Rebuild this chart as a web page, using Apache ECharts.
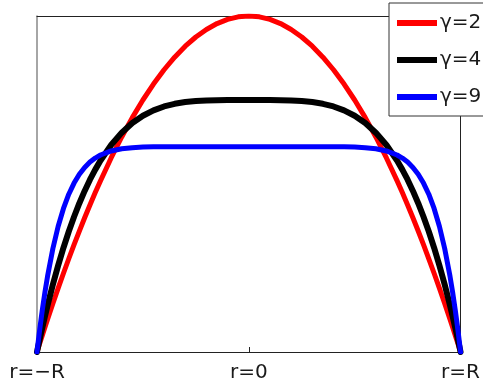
<!DOCTYPE html>
<html>
<head>
<meta charset="utf-8">
<script src="https://cdn.jsdelivr.net/npm/echarts@6/dist/echarts.min.js"></script>
<style>
  html, body { margin: 0; padding: 0; background: #fff; }
  #chart { width: 483px; height: 388px; }
</style>
</head>
<body>
<div id="chart"></div>
<script>
// Radial positions across the channel, normalised so r = -R .. R maps to -1 .. 1
const radius = [-1, -0.995, -0.99, -0.985, -0.975, -0.9625, -0.95, -0.925, -0.9, -0.875, -0.85, -0.825, -0.8, -0.775,
  -0.75, -0.725, -0.7, -0.65, -0.6, -0.55, -0.5, -0.45, -0.4, -0.35, -0.3, -0.25, -0.2, -0.15, -0.1, -0.05, 0,
  0.05, 0.1, 0.15, 0.2, 0.25, 0.3, 0.35, 0.4, 0.45, 0.5, 0.55, 0.6, 0.65, 0.7, 0.725, 0.75, 0.775, 0.8, 0.825,
  0.85, 0.875, 0.9, 0.925, 0.95, 0.9625, 0.975, 0.985, 0.99, 0.995, 1];

// Velocity profiles for each exponent
const gamma2 = [0, 0.010, 0.020, 0.0298, 0.049, 0.0736, 0.0975, 0.1444, 0.19, 0.2344, 0.2775, 0.3194, 0.36, 0.3994,
  0.4375, 0.4744, 0.51, 0.5775, 0.64, 0.6975, 0.75, 0.7975, 0.84, 0.8775, 0.91, 0.9375, 0.96, 0.9775, 0.99, 0.9975, 1,
  0.9975, 0.99, 0.9775, 0.96, 0.9375, 0.91, 0.8775, 0.84, 0.7975, 0.75, 0.6975, 0.64, 0.5775, 0.51, 0.4744, 0.4375, 0.3994, 0.36, 0.3194,
  0.2775, 0.2344, 0.19, 0.1444, 0.0975, 0.0736, 0.049, 0.0298, 0.020, 0.010, 0];

const gamma4 = [0, 0.0149, 0.0296, 0.0440, 0.0722, 0.1063, 0.1391, 0.2009, 0.2579, 0.3104, 0.3585, 0.4026, 0.4428, 0.4794,
  0.5127, 0.5428, 0.5699, 0.6161, 0.6528, 0.6814, 0.7031, 0.7192, 0.7308, 0.7387, 0.7439, 0.7471, 0.7488, 0.7496, 0.7499, 0.75, 0.75,
  0.75, 0.7499, 0.7496, 0.7488, 0.7471, 0.7439, 0.7387, 0.7308, 0.7192, 0.7031, 0.6814, 0.6528, 0.6161, 0.5699, 0.5428, 0.5127, 0.4794, 0.4428, 0.4026,
  0.3585, 0.3104, 0.2579, 0.2009, 0.1391, 0.1063, 0.0722, 0.0440, 0.0296, 0.0149, 0];

const gamma9 = [0, 0.0269, 0.0529, 0.0777, 0.1246, 0.1779, 0.2260, 0.3081, 0.3743, 0.4273, 0.4695, 0.5028, 0.5290, 0.5493,
  0.5652, 0.5772, 0.5864, 0.5984, 0.6049, 0.6082, 0.6098, 0.6105, 0.6108, 0.611, 0.611, 0.611, 0.611, 0.611, 0.611, 0.611, 0.611,
  0.611, 0.611, 0.611, 0.611, 0.611, 0.611, 0.611, 0.6108, 0.6105, 0.6098, 0.6082, 0.6049, 0.5984, 0.5864, 0.5772, 0.5652, 0.5493, 0.5290, 0.5028,
  0.4695, 0.4273, 0.3743, 0.3081, 0.2260, 0.1779, 0.1246, 0.0777, 0.0529, 0.0269, 0];

const seriesNames = ['γ=2', 'γ=4', 'γ=9'];
const seriesColors = ['#ff0000', '#000000', '#0000ff'];
const seriesWidths = [5, 6, 5];
const profiles = [gamma2, gamma4, gamma9];

// Labels at the walls and on the centreline
const tickLabels = { '-1': 'r=\u2212R', '0': 'r=0', '1': 'r=R' };

const font = 'DejaVu Sans';
const chart = echarts.init(document.getElementById('chart'), null, { renderer: 'canvas' });

const series = profiles.map((vals, i) => ({
  name: seriesNames[i],
  type: 'line',
  data: radius.map((r, k) => [r, vals[k]]),
  showSymbol: false,
  symbol: 'none',
  smooth: false,
  clip: true,
  animation: false,
  lineStyle: { color: seriesColors[i], width: seriesWidths[i], cap: 'round', join: 'round' },
  itemStyle: { color: seriesColors[i] }
}));

chart.setOption({
  animation: false,
  backgroundColor: '#ffffff',
  grid: { left: 37, right: 22, top: 16, bottom: 36, containLabel: false },
  legend: {
    orient: 'vertical',
    left: 389,
    top: 3,
    padding: [10, 30, 9, 8],
    itemGap: 17,
    itemWidth: 40,
    itemHeight: 6,
    icon: 'rect',
    backgroundColor: '#ffffff',
    borderColor: '#333333',
    borderWidth: 1,
    borderRadius: 0,
    data: seriesNames,
    textStyle: { fontFamily: font, fontSize: 20, color: '#1a1a1a', padding: [0, 0, 0, -2] }
  },
  xAxis: [
    {
      type: 'value',
      min: -1,
      max: 1,
      interval: 1,
      position: 'bottom',
      axisLine: { show: true, onZero: false, lineStyle: { color: '#222222', width: 1 } },
      axisTick: { show: true, inside: true, length: 5, customValues: [0], lineStyle: { color: '#222222' } },
      splitLine: { show: false },
      axisLabel: {
        margin: 11,
        fontFamily: font,
        fontSize: 20,
        color: '#1a1a1a',
        formatter: v => tickLabels[String(v)] || ''
      }
    },
    {
      type: 'value',
      min: -1,
      max: 1,
      position: 'top',
      axisLine: { show: true, onZero: false, lineStyle: { color: '#222222', width: 1 } },
      axisTick: { show: false },
      axisLabel: { show: false },
      splitLine: { show: false }
    }
  ],
  yAxis: [
    {
      type: 'value',
      min: 0,
      max: 1,
      position: 'left',
      axisLine: { show: true, onZero: false, lineStyle: { color: '#888888', width: 1.5 } },
      axisTick: { show: false },
      axisLabel: { show: false },
      splitLine: { show: false }
    },
    {
      type: 'value',
      min: 0,
      max: 1,
      position: 'right',
      axisLine: { show: true, onZero: false, lineStyle: { color: '#222222', width: 1 } },
      axisTick: { show: false },
      axisLabel: { show: false },
      splitLine: { show: false }
    }
  ],
  series: series
});
</script>
</body>
</html>
